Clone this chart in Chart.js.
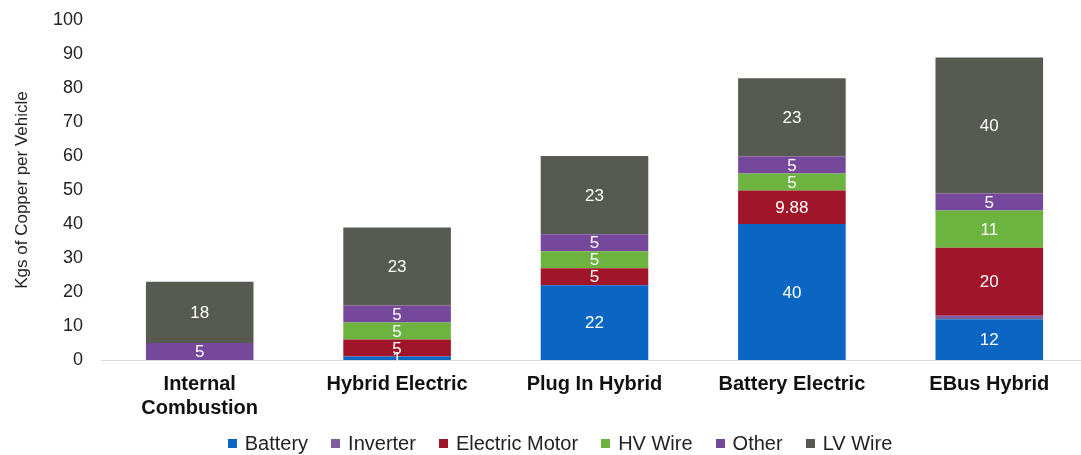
<!DOCTYPE html>
<html>
<head>
<meta charset="utf-8">
<title>Copper per Vehicle</title>
<script src="https://cdn.jsdelivr.net/npm/chart.js@4"></script>
<style>
    html, body { margin: 0; padding: 0; background: #ffffff; overflow: hidden; }
    #chart-wrap { position: relative; width: 1090px; height: 455px; }
    #legend {
        position: absolute; left: 0; top: 433px; width: 1120px;
        display: flex; justify-content: center; align-items: center;
        font: 20px 'Liberation Sans', Arial, sans-serif; line-height: 20px; color: #222222;
    }
    #legend .item { display: flex; align-items: center; margin: 0 11.5px; white-space: nowrap; }
    #legend .box { width: 9px; height: 9px; margin-right: 8px; }
</style>
</head>
<body>
<div id="chart-wrap">
    <canvas id="copper-chart"></canvas>
    <div id="legend"></div>
</div>
<script>
// Vehicle types and kg of copper per component
const vehicleTypes = [["Internal", "Combustion"], "Hybrid Electric", "Plug In Hybrid", "Battery Electric", "EBus Hybrid"];
const battery       = [0, 1, 22, 40, 12];
const inverter      = [0, 0, 0, 0, 1];
const electricMotor = [0, 5, 5, 9.88, 20];
const hvWire        = [0, 5, 5, 5, 11];
const other         = [5, 5, 5, 5, 5];
const lvWire        = [18, 23, 23, 23, 40];
const yTicks        = [0, 10, 20, 30, 40, 50, 60, 70, 80, 90, 100];

const FONT = "'Liberation Sans', Arial, sans-serif";

// Writes each segment's value in white at the middle of the segment
const segmentLabels = {
    id: "segmentLabels",
    afterDatasetsDraw(chart) {
        const ctx = chart.ctx;
        ctx.save();
        ctx.font = `17px ${FONT}`;
        ctx.fillStyle = "#ffffff";
        ctx.textAlign = "center";
        ctx.textBaseline = "middle";
        chart.data.datasets.forEach((ds, i) => {
            if (!ds.showValues) return;
            const meta = chart.getDatasetMeta(i);
            meta.data.forEach((bar, j) => {
                const v = ds.data[j];
                if (!v) return;
                const pt = bar.getCenterPoint();
                ctx.fillText(String(v), pt.x, pt.y + 1);
            });
        });
        ctx.restore();
    }
};

const series = [
    { label: "Battery",        data: battery,       color: "#0b65c2", showValues: true },
    { label: "Inverter",       data: inverter,      color: "#7d5fa0", showValues: false },
    { label: "Electric Motor", data: electricMotor, color: "#a01529", showValues: true },
    { label: "HV Wire",        data: hvWire,        color: "#6cb33f", showValues: true },
    { label: "Other",          data: other,         color: "#76489c", showValues: true },
    { label: "LV Wire",        data: lvWire,        color: "#575a51", showValues: true }
];

const chart = new Chart(document.getElementById("copper-chart"), {
    type: "bar",
    data: {
        labels: vehicleTypes,
        datasets: series.map(s => ({
            label: s.label,
            data: s.data,
            backgroundColor: s.color,
            borderWidth: 0,
            showValues: s.showValues,
            barPercentage: 0.545,
            categoryPercentage: 1.0
        }))
    },
    options: {
        responsive: true,
        maintainAspectRatio: false,
        animation: false,
        layout: { padding: { top: 20, right: 2, bottom: 0, left: 0 } },
        plugins: {
            tooltip: { enabled: false },
            legend: { display: false }
        },
        scales: {
            x: {
                stacked: true,
                grid: { display: false, drawTicks: false },
                border: { color: "#d9d9d9", width: 1 },
                ticks: {
                    color: "#111111",
                    padding: 12,
                    maxRotation: 0,
                    font: { family: FONT, size: 20, weight: "bold" }
                },
                afterFit(scale) { scale.height = 95; }
            },
            y: {
                stacked: true,
                min: 0,
                max: 100,
                grid: { display: false, drawTicks: false },
                border: { display: false },
                afterBuildTicks(scale) { scale.ticks = yTicks.map(v => ({ value: v })); },
                ticks: {
                    color: "#222222",
                    padding: 18,
                    font: { family: FONT, size: 18 }
                },
                title: {
                    display: true,
                    text: "Kgs of Copper per Vehicle",
                    color: "#222222",
                    padding: { top: 12, bottom: 0 },
                    font: { family: FONT, size: 17 }
                },
                afterFit(scale) {
                    scale.width = 101;
                    // keep the plot top fixed by the layout padding alone
                    scale.paddingTop = 0;
                    scale.paddingBottom = 0;
                }
            }
        }
    },
    plugins: [segmentLabels]
});

// Legend row built from the chart's own datasets
const legendEl = document.getElementById("legend");
chart.data.datasets.forEach(ds => {
    const item = document.createElement("span");
    item.className = "item";
    item.innerHTML = `<span class="box" style="background:${ds.backgroundColor}"></span>${ds.label}`;
    legendEl.appendChild(item);
});
</script>
</body>
</html>
